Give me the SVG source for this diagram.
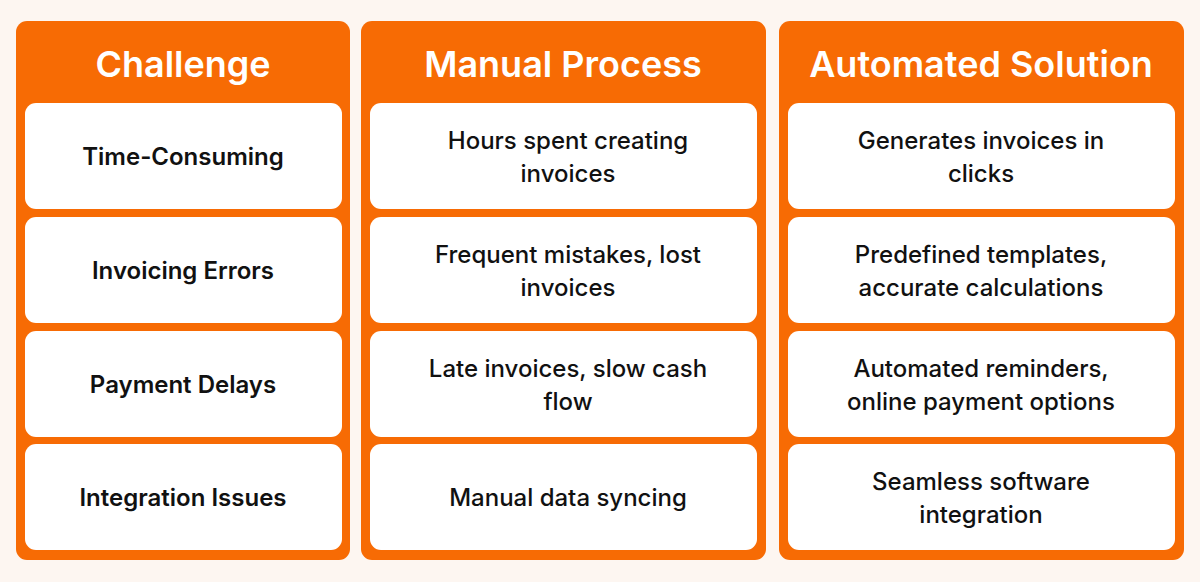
<svg xmlns="http://www.w3.org/2000/svg" width="1200" height="582" viewBox="0 0 1200 582">
<style>
.p{fill:#f76b04}
.c{fill:#fff}
.h{font-family:Inter,"Liberation Sans",sans-serif;font-size:36px;font-weight:600;fill:#fff;text-anchor:middle}
.t{font-family:Inter,"Liberation Sans",sans-serif;font-size:24px;font-weight:500;fill:#111;text-anchor:middle}
.b{font-weight:600}
</style>
<rect width="1200" height="582" fill="#fdf6f1"/>
<g id="col1">
<rect class="p" x="16" y="21" width="334" height="539" rx="11"/>
<text class="h" x="183" y="77">Challenge</text>
<rect class="c" x="25" y="103" width="317" height="106" rx="11"/>
<rect class="c" x="25" y="217" width="317" height="106" rx="11"/>
<rect class="c" x="25" y="331" width="317" height="106" rx="11"/>
<rect class="c" x="25" y="444" width="317" height="106" rx="11"/>
<text class="t b" x="183" y="165">Time-Consuming</text>
<text class="t b" x="183" y="279">Invoicing Errors</text>
<text class="t b" x="183" y="393">Payment Delays</text>
<text class="t b" x="183" y="506">Integration Issues</text>
</g>
<g id="col2">
<rect class="p" x="361" y="21" width="405" height="539" rx="11"/>
<text class="h" x="563" y="77">Manual Process</text>
<rect class="c" x="370" y="103" width="387" height="106" rx="11"/>
<rect class="c" x="370" y="217" width="387" height="106" rx="11"/>
<rect class="c" x="370" y="331" width="387" height="106" rx="11"/>
<rect class="c" x="370" y="444" width="387" height="106" rx="11"/>
<text class="t" x="568" y="149">Hours spent creating</text>
<text class="t" x="568" y="182">invoices</text>
<text class="t" x="568" y="263">Frequent mistakes, lost</text>
<text class="t" x="568" y="296">invoices</text>
<text class="t" x="568" y="377">Late invoices, slow cash</text>
<text class="t" x="568" y="410">flow</text>
<text class="t" x="568" y="506">Manual data syncing</text>
</g>
<g id="col3">
<rect class="p" x="779" y="21" width="405" height="539" rx="11"/>
<text class="h" x="981" y="77">Automated Solution</text>
<rect class="c" x="788" y="103" width="387" height="106" rx="11"/>
<rect class="c" x="788" y="217" width="387" height="106" rx="11"/>
<rect class="c" x="788" y="331" width="387" height="106" rx="11"/>
<rect class="c" x="788" y="444" width="387" height="106" rx="11"/>
<text class="t" x="981" y="149">Generates invoices in</text>
<text class="t" x="981" y="182">clicks</text>
<text class="t" x="981" y="263">Predefined templates,</text>
<text class="t" x="981" y="296">accurate calculations</text>
<text class="t" x="981" y="377">Automated reminders,</text>
<text class="t" x="981" y="410">online payment options</text>
<text class="t" x="981" y="490">Seamless software</text>
<text class="t" x="981" y="523">integration</text>
</g>
<g id="connectors"/>
</svg>
